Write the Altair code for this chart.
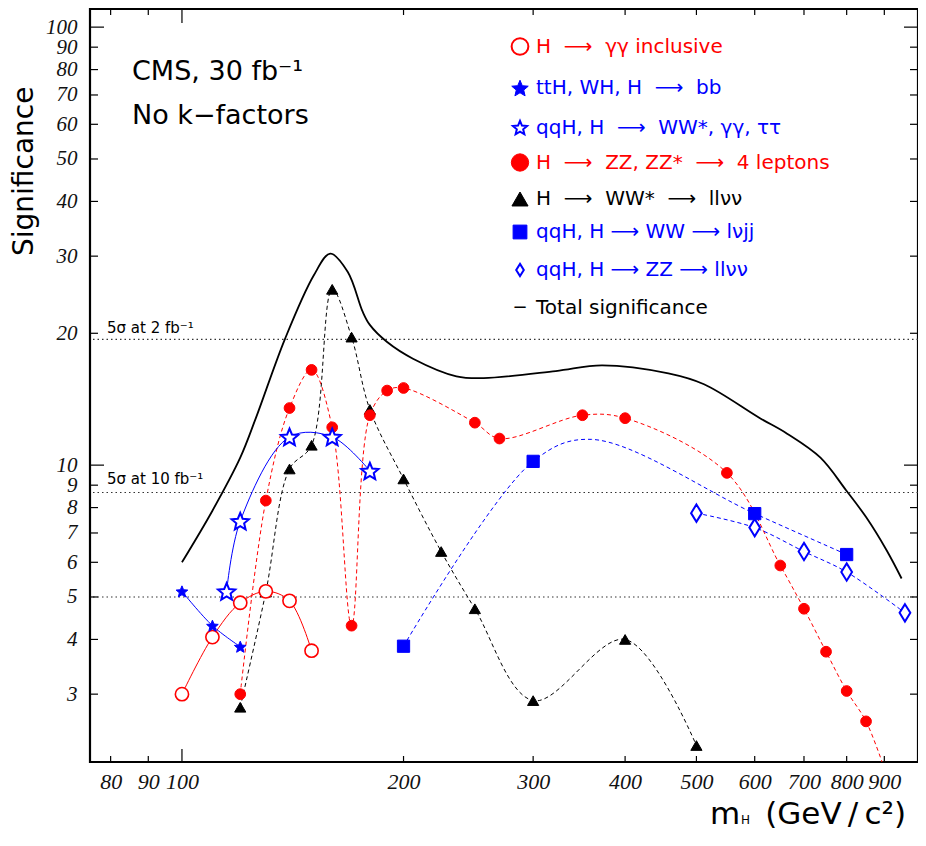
import altair as alt
import pandas as pd
import numpy as np

# ---------------- data ----------------
gg_m = [100, 110, 120, 130, 140, 150]
gg_s = [3.0, 4.05, 4.85, 5.15, 4.9, 3.77]

bb_m = [100, 110, 120]
bb_s = [5.15, 4.3, 3.85]

qq_m = [115, 120, 140, 160, 180]
qq_s = [5.15, 7.45, 11.6, 11.6, 9.7]

zz_m = [120, 130, 140, 150, 160, 170, 180, 190, 200, 250, 270, 350, 400,
        550, 650, 700, 750, 800, 850, 900]
zz_s = [3.0, 8.3, 13.5, 16.5, 12.2, 4.3, 13.0, 14.8, 15.0, 12.5, 11.5, 13.0, 12.8,
        9.6, 5.9, 4.7, 3.75, 3.05, 2.6, 2.03]

ww_m = [120, 130, 140, 150, 160, 170, 180, 200, 225, 250, 300, 400, 500]
ww_s = [2.8, 5.13, 9.8, 11.1, 25.2, 19.6, 13.4, 9.3, 6.35, 4.7, 2.9, 4.0, 2.29]

lvjj_m = [200, 300, 600, 800]
lvjj_s = [3.86, 10.2, 7.75, 6.25]
# vertices of the drawn lvjj curve (markers only at lvjj_m)
lvjj_curve_m = [200, 300, 360, 600, 800]
lvjj_curve_s = [3.86, 10.2, 11.45, 7.75, 6.25]

llvv_m = [500, 600, 700, 800, 960]
llvv_s = [7.77, 7.2, 6.35, 5.7, 4.6]

tot_m = [100, 110, 120, 126, 138, 151, 159, 168, 176, 180, 190, 206,
         236, 257, 322, 372, 458, 512, 610, 664, 737, 799, 850, 906, 950]
tot_s = [6.0, 7.87, 10.4, 12.8, 19.4, 27.1, 30.4, 27.6, 22.4, 20.9, 19.1, 17.5,
         15.95, 15.8, 16.4, 16.9, 16.2, 15.3, 12.8, 11.8, 10.4, 8.75, 7.61, 6.4, 5.51]

ref_levels = [19.36, 8.66, 5.0]

x_tick_values = [80, 90, 100, 200, 300, 400, 500, 600, 700, 800, 900]
y_tick_values = [3, 4, 5, 6, 7, 8, 9, 10, 20, 30, 40, 50, 60, 70, 80, 90, 100]
y_major = [10, 100]
x_major = [100]

ARW = "\u00a0\u00a0\u27f6\u00a0\u00a0"
ARW_S = "\u00a0\u27f6\u00a0"
legend_labels = [
    "H" + ARW + "\u03b3\u03b3 inclusive",
    "ttH, WH, H" + ARW + "bb",
    "qqH, H" + ARW + "WW*, \u03b3\u03b3, \u03c4\u03c4",
    "H" + ARW + "ZZ, ZZ*" + ARW + "4 leptons",
    "H" + ARW + "WW*" + ARW + "ll\u03bd\u03bd",
    "qqH, H" + ARW_S + "WW" + ARW_S + "l\u03bdjj",
    "qqH, H" + ARW_S + "ZZ" + ARW_S + "ll\u03bd\u03bd",
    "Total significance",
]

# ---------------- style / layout ----------------
W, H = 828, 753
RED, BLUE, BLACK = "#ff0000", "#0000ff", "#000000"
SANS = "DejaVu Sans"
SERIF = "Liberation Serif"


def star_path(inner=0.45):
    pts = []
    for k in range(10):
        ang = -np.pi / 2 + k * np.pi / 5
        r = 1.0 if k % 2 == 0 else inner
        pts.append((r * np.cos(ang), r * np.sin(ang) + 0.1))
    return "M" + "L".join(f"{x:.3f},{y:.3f}" for x, y in pts) + "Z"


STAR = star_path()
DIAMOND = "M0,-1L0.62,0L0,1L-0.62,0Z"

x_scale = alt.Scale(type="log", domain=[75, 1000], nice=False)
y_scale = alt.Scale(type="log", domain=[2.1, 110], nice=False)

x_axis = alt.Axis(values=x_tick_values, format="d", title=None, grid=False, ticks=False,
                  domain=False, labelFont=SERIF, labelFontStyle="italic", labelFontSize=22,
                  labelColor="#111", labelPadding=9, labelOverlap=False, labelFlush=False)
y_axis = alt.Axis(values=y_tick_values, format="d", title=None, grid=False, ticks=False,
                  domain=False, labelFont=SERIF, labelFontStyle="italic", labelFontSize=21,
                  labelColor="#111", labelPadding=13, labelOverlap=False, labelFlush=False)


def X(field="m"):
    return alt.X(f"{field}:Q", scale=x_scale, axis=x_axis)


def Y(field="s"):
    return alt.Y(f"{field}:Q", scale=y_scale, axis=y_axis)


def df(m, s):
    return pd.DataFrame({"m": m, "s": s})


layers = []

# reference (dotted) lines
layers.append(
    alt.Chart(pd.DataFrame({"s": ref_levels})).mark_rule(
        color="#333", strokeWidth=1.2, strokeDash=[1.5, 3]).encode(y=Y())
)


def line(m, s, color, dash, width, interp="catmull-rom"):
    kw = dict(color=color, strokeWidth=width, interpolate=interp, clip=True)
    if dash:
        kw["strokeDash"] = dash
    return alt.Chart(df(m, s)).mark_line(**kw).encode(x=X(), y=Y())


def points(m, s, color, shape, size, filled, sw=1.0):
    pk = dict(shape=shape, size=size, clip=True, opacity=1, strokeWidth=sw)
    if filled:
        pk.update(filled=True, fill=color, stroke=color, fillOpacity=1)
    else:
        pk.update(filled=False, fill="white", fillOpacity=1, stroke=color)
    return alt.Chart(df(m, s)).mark_point(**pk).encode(x=X(), y=Y())


DASH = [4, 3]
layers.append(line(tot_m, tot_s, BLACK, None, 1.8))
layers.append(line(ww_m, ww_s, BLACK, DASH, 1.0))
layers.append(points(ww_m, ww_s, BLACK, "triangle-up", 125, True))
layers.append(line(zz_m, zz_s, RED, DASH, 1.0))
layers.append(points(zz_m, zz_s, RED, "circle", 115, True))
layers.append(line(lvjj_curve_m, lvjj_curve_s, BLUE, DASH, 1.0))
layers.append(points(lvjj_m, lvjj_s, BLUE, "square", 150, True))
layers.append(line(llvv_m, llvv_s, BLUE, DASH, 1.0))
layers.append(points(llvv_m, llvv_s, BLUE, DIAMOND, 300, False, sw=2))
layers.append(line(gg_m, gg_s, RED, None, 1.0))
layers.append(points(gg_m, gg_s, RED, "circle", 175, False, sw=1.6))
layers.append(line(bb_m, bb_s, BLUE, None, 1.0))
layers.append(points(bb_m, bb_s, BLUE, STAR, 150, True))
layers.append(line(qq_m, qq_s, BLUE, None, 1.0))
layers.append(points(qq_m, qq_s, BLUE, STAR, 330, False, sw=2))

# inward ticks (frame ticks)
x_minor = [v for v in x_tick_values if v not in x_major]
y_minor = [v for v in y_tick_values if v not in y_major]
tk = dict(color=BLACK, strokeWidth=1.2)
for vals, ln in ((x_minor, 6), (x_major, 13)):
    d = pd.DataFrame({"m": vals})
    layers.append(alt.Chart(d).mark_rule(**tk).encode(x=X(), y=alt.value(H), y2=alt.value(H - ln)))
for vals, ln in ((x_minor, 6), (x_major, 14)):
    d = pd.DataFrame({"m": vals})
    layers.append(alt.Chart(d).mark_rule(**tk).encode(x=X(), y=alt.value(0), y2=alt.value(ln)))
for vals, ln in ((y_minor, 8), (y_major, 14)):
    d = pd.DataFrame({"s": vals})
    layers.append(alt.Chart(d).mark_rule(**tk).encode(y=Y(), x=alt.value(0), x2=alt.value(ln)))
    layers.append(alt.Chart(d).mark_rule(**tk).encode(y=Y(), x=alt.value(W), x2=alt.value(W - ln)))

one = pd.DataFrame({"k": [0]})


def txt(text, x, y, size, color=BLACK, align="left", baseline="middle", font=SANS, angle=0,
        style="normal"):
    kw = dict(text=text, align=align, baseline=baseline, font=font, fontSize=size,
              color=color, fontStyle=style)
    if angle:
        kw["angle"] = angle
    return alt.Chart(one).mark_text(**kw).encode(x=alt.value(x), y=alt.value(y))


# annotations
layers.append(txt("CMS, 30 fb\u207b\u00b9", 42, 63, 27))
layers.append(txt("No k\u2212factors", 42, 107, 27))
layers.append(txt("5\u03c3 at 2 fb\u207b\u00b9", 17, 319, 15))
layers.append(txt("5\u03c3 at 10 fb\u207b\u00b9", 17, 470, 15))
layers.append(txt("Significance", -65, 247, 28, angle=270))
layers.append(txt("m", 620, 815, 31, baseline="alphabetic"))
layers.append(txt("H", 651, 815, 12, baseline="alphabetic"))
layers.append(txt("(GeV\u2009/\u2009c\u00b2)", 816, 815, 31, align="right", baseline="alphabetic"))

# legend
leg_y = [37.5, 79, 118.5, 153.5, 190, 223, 261, 299]
leg_colors = [RED, BLUE, BLUE, RED, BLACK, BLUE, BLUE, BLACK]
leg_shapes = ["circle", STAR, STAR, "circle", "triangle-up", "square", DIAMOND, None]
leg_filled = [False, True, False, True, True, True, False, True]
leg_sizes = [280, 300, 220, 300, 260, 190, 150, 0]
for lab, yy, col, shp, fil, sz in zip(legend_labels, leg_y, leg_colors, leg_shapes,
                                       leg_filled, leg_sizes):
    layers.append(txt(lab, 446, yy, 20, color=col))
    if shp is None:
        layers.append(txt("\u2212", 430, yy, 18, color=col, align="center"))
        continue
    pk = dict(shape=shp, size=sz, opacity=1, strokeWidth=2 if not fil else 1)
    if fil:
        pk.update(filled=True, fill=col, stroke=col, fillOpacity=1)
    else:
        pk.update(filled=False, stroke=col, fill="white", fillOpacity=1)
    layers.append(alt.Chart(one).mark_point(**pk).encode(x=alt.value(430), y=alt.value(yy)))

chart = alt.layer(*layers).properties(
    width=W, height=H,
    autosize=alt.AutoSizeParams(type="none"),
    padding={"left": 82, "top": 1, "right": 0, "bottom": 76},
    background="white",
).configure_view(stroke=BLACK, strokeWidth=2.2)

chart.save("out.html", embed_options={"renderer": "svg", "actions": False})
